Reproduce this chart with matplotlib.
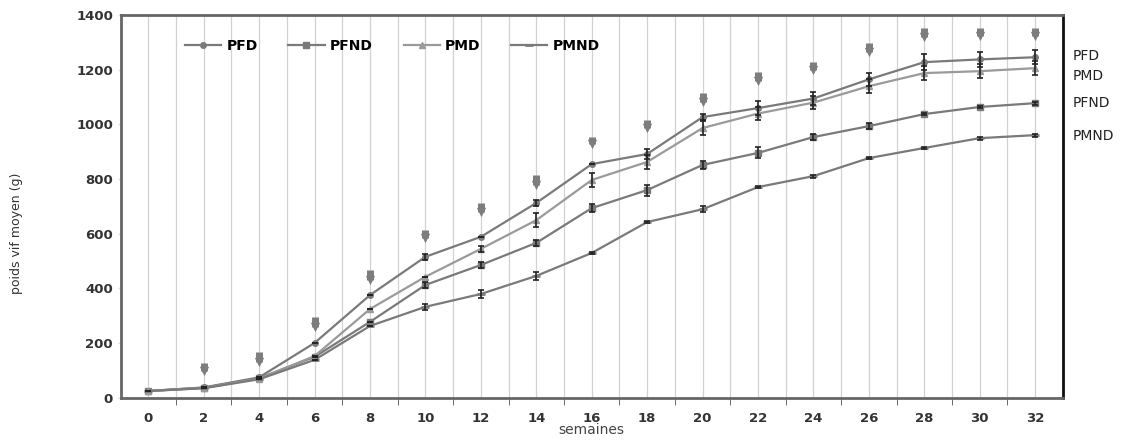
import numpy as np
import matplotlib
matplotlib.use("Agg")
import matplotlib.pyplot as plt

# Data #################################################################
weeks = [0, 2, 4, 6, 8, 10, 12, 14, 16, 18, 20, 22, 24, 26, 28, 30, 32]
pfd = [25, 38, 75, 201, 376, 516, 589, 713, 855, 892, 1027, 1060, 1095, 1165, 1228, 1238, 1246]
pfnd = [25, 37, 72, 150, 278, 413, 486, 567, 694, 760, 852, 896, 954, 994, 1038, 1064, 1078]
pmd = [25, 36, 70, 153, 325, 443, 545, 650, 797, 863, 987, 1040, 1080, 1140, 1188, 1195, 1206]
pmnd = [25, 35, 68, 139, 263, 333, 380, 446, 530, 643, 690, 771, 811, 877, 914, 950, 961]
err_pfd = [0, 0, 0, 0, 0, 10, 0, 12, 0, 20, 10, 25, 25, 25, 28, 28, 25]
err_pfnd = [0, 0, 0, 0, 0, 10, 10, 10, 15, 20, 15, 20, 10, 10, 5, 5, 5]
err_pmd = [0, 0, 0, 0, 0, 0, 10, 25, 25, 25, 25, 25, 25, 25, 25, 25, 25]
err_pmnd = [0, 0, 0, 0, 0, 10, 15, 15, 5, 5, 10, 5, 5, 5, 5, 5, 5]
arrow_top = [128, 168, 296, 468, 614, 713, 815, 954, 1016, 1115, 1192, 1228, 1298, 1352, 1352, 1352]
arrow_bot = [84, 113, 241, 413, 567, 662, 760, 914, 969, 1064, 1144, 1181, 1246, 1301, 1310, 1310]
right_labels = ["PFD", "PMD", "PFND", "PMND"]
right_label_y = [1250, 1178, 1080, 958]

# Plot #################################################################
fig = plt.figure(figsize=(11.38, 4.45), dpi=100)
ax = fig.add_axes([0.106, 0.106, 0.828, 0.860])

for x in range(-1, 34):
    ax.axvline(x, color="#d2d2d2", lw=0.9, zorder=0)

col = "#7a7a7a"
ax.plot(weeks, pfd, color=col, lw=1.6, marker="o", ms=4, label="PFD", zorder=3)
ax.plot(weeks, pfnd, color=col, lw=1.6, marker="s", ms=4, label="PFND", zorder=3)
ax.plot(weeks, pmd, color="#9a9a9a", lw=1.6, marker="^", ms=4, label="PMD", zorder=3)
ax.plot(weeks, pmnd, color=col, lw=1.6, marker="_", ms=6, mew=2, label="PMND", zorder=3)

for vals, err in [(pfd, err_pfd), (pfnd, err_pfnd), (pmd, err_pmd), (pmnd, err_pmnd)]:
    ax.errorbar(weeks, vals, yerr=err, fmt="none", ecolor="#222222", elinewidth=1.2,
                capsize=2.5, capthick=1.2, zorder=4)

# down arrows: thick shaft + triangular head
arrow_mid = [b + (t - b) * 0.35 for t, b in zip(arrow_top, arrow_bot)]
ax.vlines(weeks[1:], arrow_mid, arrow_top, color="#7d7d7d", lw=5, zorder=2)
ax.scatter(weeks[1:], arrow_mid, marker="v", s=45, color="#7d7d7d", linewidths=0, zorder=2)

ax.set_xlim(-1, 33)
ax.set_ylim(0, 1400)
ax.set_xticks(weeks)
ax.set_xticks(range(1, 33, 2), minor=True)
ax.set_yticks(range(0, 1401, 200))
ax.tick_params(axis="both", labelsize=9.5, colors="#333333", length=3, width=1)
ax.tick_params(axis="x", which="minor", length=5, direction="out", color="#555555")
ax.tick_params(axis="x", which="major", length=0, pad=10)
ax.tick_params(axis="y", length=2, color="#dddddd")
for lbl in ax.get_xticklabels() + ax.get_yticklabels():
    lbl.set_fontweight("bold")

for s in ["top", "bottom", "left"]:
    ax.spines[s].set_color("#666666")
    ax.spines[s].set_linewidth(2)
ax.spines["right"].set_color("#111111")
ax.spines["right"].set_linewidth(2)

ax.set_xlabel("semaines", fontsize=10, color="#444444", labelpad=-1)
ax.set_ylabel("poids vif moyen (g)", fontsize=9, color="#333333")
ax.yaxis.set_label_coords(-0.104, 0.43)

leg = ax.legend(loc="upper left", bbox_to_anchor=(0.055, 0.97), ncol=4, frameon=False,
                handlelength=2.6, columnspacing=2.2, handletextpad=0.4,
                prop={"weight": "bold", "size": 10})

for lab, y in zip(right_labels, right_label_y):
    ax.text(33.35, y, lab, fontsize=10, color="#222222", va="center", ha="left")

fig.savefig("out.png", dpi=100)
